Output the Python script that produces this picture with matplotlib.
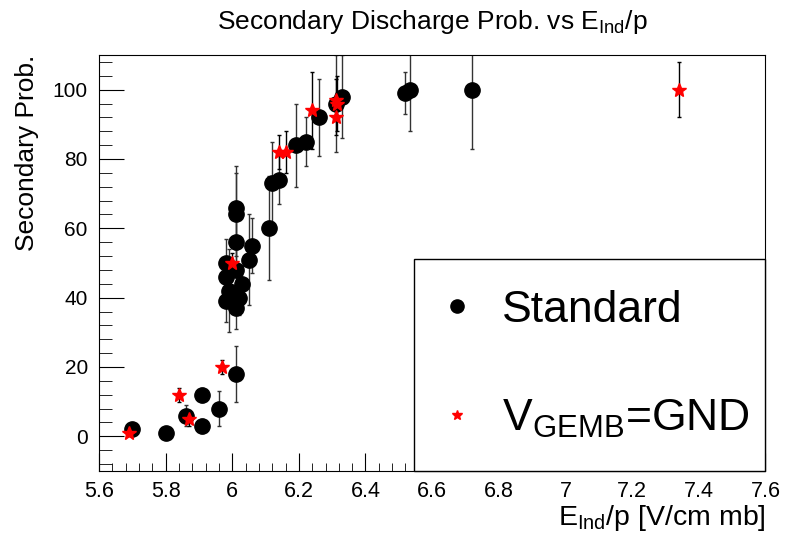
import matplotlib
matplotlib.use('Agg')
import matplotlib.pyplot as plt
from matplotlib.lines import Line2D
from matplotlib.ticker import MultipleLocator

plt.rcParams['font.family'] = ['Liberation Sans', 'DejaVu Sans']
plt.rcParams['mathtext.fontset'] = 'custom'
plt.rcParams['mathtext.rm'] = 'Liberation Sans'

# Standard configuration
std_x = [5.70, 5.80, 5.86, 5.91, 5.91, 5.96, 5.98, 5.98, 5.98, 5.99, 6.01, 6.01,
         6.01, 6.01, 6.01, 6.01, 6.02, 6.03, 6.05, 6.06, 6.11, 6.12, 6.14, 6.19,
         6.22, 6.26, 6.31, 6.33, 6.52, 6.535, 6.72]
std_y = [2, 1, 6, 12, 3, 8, 50, 46, 39, 42, 66, 64,
         56, 48, 37, 18, 40, 44, 51, 55, 60, 73, 74, 84,
         85, 92, 96, 98, 99, 100, 100]
std_err = [1.5, 0.5, 3, 2, 2, 5, 7, 5, 6, 12, 12, 12,
           8, 6, 6, 8, 5, 5, 13, 8, 15, 12, 7, 12,
           7, 11, 14, 12, 6, 12, 17]

# GEM B grounded
gnd_x = [5.69, 5.84, 5.87, 5.97, 6.00, 6.14, 6.16, 6.24, 6.31, 6.31, 6.315, 7.34]
gnd_y = [1, 12, 5, 20, 50, 82, 82, 94, 92, 97, 96, 100]
gnd_err = [1, 2, 2, 2, 3, 5, 6, 11, 5, 6, 8, 8]

fig = plt.figure(figsize=(7.85, 5.34), dpi=100)
ax = fig.add_axes([0.126, 0.118, 0.849, 0.779])

ax.errorbar(std_x, std_y, yerr=std_err, fmt='o', color='black', ms=11,
            ecolor='#333333', elinewidth=1, capsize=1.5, zorder=2)
ax.errorbar(gnd_x, gnd_y, yerr=gnd_err, fmt='*', color='red', ms=10.5,
            ecolor='black', elinewidth=1, capsize=1.5, zorder=3)

ax.set_xlim(5.6, 7.6)
ax.set_ylim(-10, 110)
ax.xaxis.set_major_locator(MultipleLocator(0.2))
ax.xaxis.set_minor_locator(MultipleLocator(0.04))
ax.yaxis.set_major_locator(MultipleLocator(20))
ax.yaxis.set_minor_locator(MultipleLocator(4))
ax.tick_params(axis='x', which='major', direction='in', length=13, labelsize=15.5, pad=7)
ax.tick_params(axis='x', which='minor', direction='in', length=6)
ax.tick_params(axis='y', which='major', direction='in', length=18, labelsize=15, pad=8)
ax.tick_params(axis='y', which='minor', direction='in', length=9)
ax.xaxis.set_major_formatter(plt.FuncFormatter(lambda v, p: f'{v:g}'))

ax.set_title(r'Secondary Discharge Prob. vs $\mathrm{E}_{\mathrm{Ind}}$/p', fontsize=19, pad=19)
ax.set_ylabel('Secondary Prob.', fontsize=19, loc='top', labelpad=10)
ax.set_xlabel(r'$\mathrm{E}_{\mathrm{Ind}}$/p [V/cm mb]', fontsize=20.5, loc='right', labelpad=1)

handles = [Line2D([], [], marker='o', color='black', ls='none', ms=9.5),
           Line2D([], [], marker='*', color='red', ls='none', ms=7)]
labels = ['Standard', r'$\mathrm{V}_{\mathrm{GEMB}}$=GND']
leg = ax.legend(handles, labels, loc='lower left',
                bbox_to_anchor=(0.528, 0.118, 0.447, 0.391),
                bbox_transform=fig.transFigure, mode='expand',
                fontsize=32, frameon=True, fancybox=False, framealpha=1,
                edgecolor='black', handlelength=0.52, handletextpad=0.75,
                borderpad=0.7, labelspacing=1.5, borderaxespad=0)
leg.get_frame().set_linewidth(1)

fig.savefig('out.png', dpi=100)
